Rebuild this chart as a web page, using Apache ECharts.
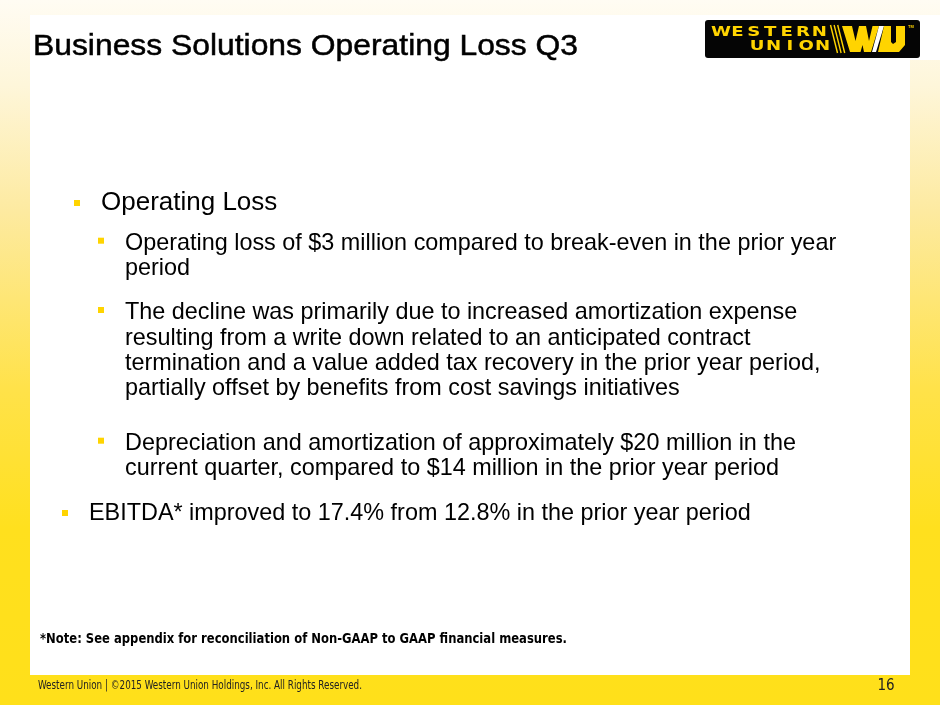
<!DOCTYPE html>
<html>
<head>
<meta charset="utf-8">
<title>Business Solutions Operating Loss Q3</title>
<script src="https://cdn.jsdelivr.net/npm/echarts@6/dist/echarts.min.js"></script>
<style>
  html, body { margin: 0; padding: 0; background: #fff; }
  #slide { width: 940px; height: 705px; }
</style>
</head>
<body>
<div id="slide"></div>
<script>
// slide content
const slideTitle = 'Business Solutions Operating Loss Q3';
const bulletLevels = [1, 2, 2, 2, 0];
const bulletLines = [
  ['Operating Loss'],
  ['Operating loss of $3 million compared to break-even in the prior year', 'period'],
  ['The decline was primarily due to increased amortization expense',
   'resulting from a write down related to an anticipated contract',
   'termination and a value added tax recovery in the prior year period,',
   'partially offset by benefits from cost savings initiatives'],
  ['Depreciation and amortization of approximately $20 million in the',
   'current quarter, compared to $14 million in the prior year period'],
  ['EBITDA* improved to 17.4% from 12.8% in the prior year period']
];
const noteText = '*Note: See appendix for reconciliation of Non-GAAP to GAAP financial measures.';
const footerText = 'Western Union | \u00a92015 Western Union Holdings, Inc. All Rights Reserved.';
const pageNumber = '16';
const logoTop = 'WESTERN';
const logoBottom = 'UNION';

// layout
const firstBaselines = [211.7, 251.7, 321, 451.7, 521.7];
const lineStep = 25.3;
const indent = {
  0: { bullet: 62, text: 89, size: 23.4, lift: 8.7 },
  1: { bullet: 74, text: 101, size: 26, lift: 8.7 },
  2: { bullet: 98, text: 125, size: 23.4, lift: 11 }
};
const yellow = '#FFD400';

function textWidth(text, font) {
  const ctx = document.createElement('canvas').getContext('2d');
  ctx.font = font;
  return ctx.measureText(text).width;
}

function fittedText(text, left, midY, size, family, weight, width, color, stroke) {
  const font = weight + ' ' + size + 'px ' + family;
  const s = width / textWidth(text, font);
  const style = {
    text: text, x: 0, y: 0, fill: color,
    font: font, verticalAlign: 'middle', align: 'left'
  };
  if (stroke) {
    style.stroke = color;
    style.lineWidth = stroke;
  }
  return { type: 'text', x: left, y: midY, scaleX: s, silent: true, style: style };
}

const elements = [];

// background frame
elements.push({
  type: 'rect', silent: true,
  shape: { x: 0, y: 0, width: 940, height: 705 },
  style: {
    fill: new echarts.graphic.LinearGradient(0, 0, 0, 1, [
      { offset: 0, color: '#FFFCF3' },
      { offset: 0.12, color: '#FEF6DA' },
      { offset: 0.3, color: '#FDEAA0' },
      { offset: 0.55, color: '#FFE24A' },
      { offset: 0.75, color: '#FFE01E' },
      { offset: 1, color: '#FFE01A' }
    ])
  }
});
elements.push({
  type: 'rect', silent: true,
  shape: { x: 30, y: 15, width: 910, height: 45 },
  style: { fill: '#ffffff' }
});
elements.push({
  type: 'rect', silent: true,
  shape: { x: 30, y: 15, width: 880, height: 660 },
  style: { fill: '#ffffff' }
});

// title
elements.push(fittedText(slideTitle, 33, 47, 30, '"Liberation Sans", Arial, sans-serif', 'normal', 545, '#000', 0.5));

// logo
elements.push({
  type: 'rect', silent: true,
  shape: { x: 705, y: 20, width: 215, height: 38, r: 3 },
  style: { fill: '#050505' }
});
logoTop.split('').forEach(function (ch, i) {
  elements.push({
    type: 'text', silent: true, x: 721 + i * 16.4, y: 32.5, scaleX: 1.25,
    style: { text: ch, fill: yellow, font: 'bold 14.5px "DejaVu Sans"', align: 'center', verticalAlign: 'middle' }
  });
});
logoBottom.split('').forEach(function (ch, i) {
  elements.push({
    type: 'text', silent: true, x: 721 + (i + 2.2) * 16.4, y: 46.5, scaleX: 1.25,
    style: { text: ch, fill: yellow, font: 'bold 14.5px "DejaVu Sans"', align: 'center', verticalAlign: 'middle' }
  });
});
[0, 1, 2].forEach(function (k) {
  elements.push({
    type: 'line', silent: true,
    shape: { x1: 830.5 + k * 3.6, y1: 25, x2: 837.5 + k * 3.6, y2: 53 },
    style: { stroke: yellow, lineWidth: 1.4 }
  });
});
elements.push({
  type: 'polygon', silent: true,
  shape: { points: [[842, 26], [852, 26], [855.5, 41], [859, 26], [866, 26], [869, 41], [872.5, 26], [879, 26], [871, 52], [864, 52], [862.5, 45], [860.5, 52], [850, 52]] },
  style: { fill: yellow }
});
elements.push({
  type: 'polygon', silent: true,
  shape: { points: [[879, 26], [884, 26], [876, 52], [872, 52]] },
  style: { fill: '#ffffff' }
});
elements.push({
  type: 'polygon', silent: true,
  shape: { points: [[884, 26], [891, 26], [891, 42], [893, 44], [896, 42], [896, 26], [905, 26], [905, 45], [899, 52], [878, 52]] },
  style: { fill: yellow }
});
elements.push({
  type: 'text', silent: true, x: 911, y: 27,
  style: { text: 'TM', fill: yellow, font: 'bold 4px sans-serif', align: 'center', verticalAlign: 'middle' }
});

// bullets
bulletLines.forEach(function (lines, i) {
  const lv = indent[bulletLevels[i]];
  const base = firstBaselines[i];
  elements.push({
    type: 'rect', silent: true,
    shape: { x: lv.bullet, y: base - lv.lift - 3, width: 6, height: 6 },
    style: { fill: yellow }
  });
  lines.forEach(function (line, j) {
    elements.push({
      type: 'text', silent: true, x: lv.text, y: base + j * lineStep - 0.35 * lv.size,
      style: {
        text: line, x: 0, y: 0, fill: '#000',
        font: lv.size + 'px "Liberation Sans", Arial, sans-serif',
        align: 'left', verticalAlign: 'middle'
      }
    });
  });
});

// note and footer
elements.push(fittedText(noteText, 40, 639, 14, '"DejaVu Sans Condensed", "DejaVu Sans", sans-serif', 'bold', 527, '#000'));
elements.push(fittedText(footerText, 38, 686, 12, '"DejaVu Sans Condensed", sans-serif', 'normal', 324, '#222'));
elements.push({
  type: 'text', silent: true, x: 886, y: 686,
  style: { text: pageNumber, fill: '#222', font: '15px "DejaVu Sans Condensed", sans-serif', align: 'center', verticalAlign: 'middle' }
});

const chart = echarts.init(document.getElementById('slide'));
chart.setOption({
  animation: false,
  graphic: { elements: elements }
});
</script>
</body>
</html>
